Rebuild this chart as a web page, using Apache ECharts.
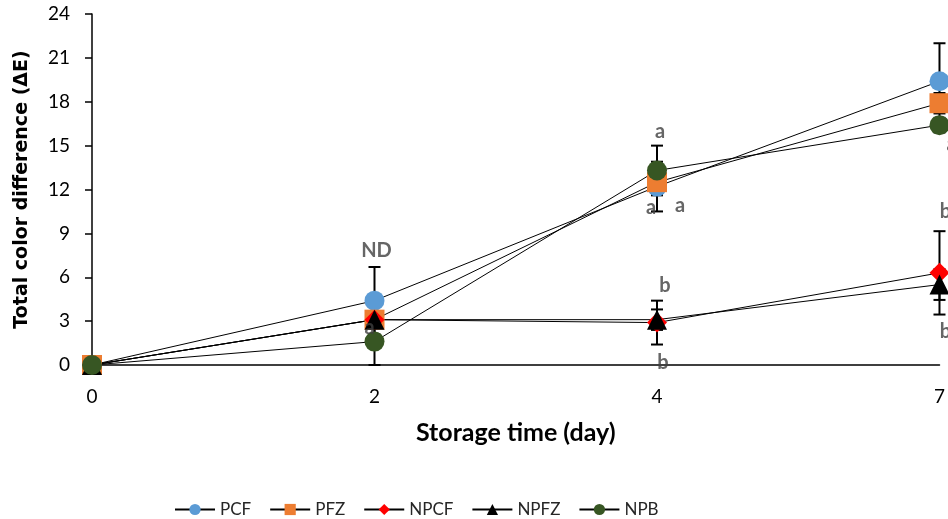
<!DOCTYPE html>
<html lang="en">
<head>
<meta charset="UTF-8">
<title>Total color difference</title>
<script src="https://cdn.jsdelivr.net/npm/echarts@6/dist/echarts.min.js"></script>
<style>
  * { margin: 0; padding: 0; }
  #chart { width: 948px; height: 519px; background: #fff; }
</style>
</head>
<body>
<div id="chart"></div>
<script>
  // storage days (equally spaced categories, as in the original)
  var days = ['0', '2', '4', '7'];

  // mean total color difference per sample
  var PCF = [0, 4.4, 12.2, 19.4];
  var PFZ = [0, 3.1, 12.5, 17.9];
  var NPCF = [0, 3.1, 2.9, 6.3];
  var NPFZ = [0, 3.1, 3.1, 5.5];
  var NPB = [0, 1.6, 13.3, 16.4];

  // standard deviations (error bars)
  var sdPCF = [0, 2.3, 1.7, 2.6];
  var sdPFZ = [0, 0.3, 0.8, 0.7];
  var sdNPCF = [0, 0.3, 1.5, 2.85];
  var sdNPFZ = [0, 0.3, 0.7, 1.05];
  var sdNPB = [0, 1.6, 1.7, 0.5];

  // significance letters
  var letterText = ['ND', 'a', 'a', 'a', 'a', 'b', 'b', 'a', 'b', 'b'];
  var letterDay = [1, 1, 2, 2, 2, 2, 2, 3, 3, 3];
  var letterY = [7.86, 2.53, 15.93, 10.74, 10.87, 5.4, 0.14, 15.04, 10.46, 2.26];
  var letterDx = [2, -5, 3, -6, 23, 8, 6, 12, 6, 6];

  var names = ['PCF', 'PFZ', 'NPCF', 'NPFZ', 'NPB'];
  var means = [PCF, PFZ, NPCF, NPFZ, NPB];
  var sds = [sdPCF, sdPFZ, sdNPCF, sdNPFZ, sdNPB];
  var colors = ['#5B9BD5', '#ED7D31', '#FF0000', '#000000', '#375623'];
  var symbols = ['circle', 'rect', 'diamond', 'triangle', 'circle'];

  var errData = [];
  means.forEach(function (m, s) {
    m.forEach(function (v, i) {
      if (sds[s][i] > 0) errData.push([i, v - sds[s][i], v + sds[s][i]]);
    });
  });

  var letterData = letterText.map(function (t, i) {
    return { value: [letterDay[i], letterY[i]], name: t, label: { offset: [letterDx[i], 0] } };
  });

  var series = [{
    type: 'custom',
    z: 1,
    silent: true,
    data: errData,
    renderItem: function (params, api) {
      var lo = api.coord([api.value(0), api.value(1)]);
      var hi = api.coord([api.value(0), api.value(2)]);
      var w = 6;
      var st = { stroke: '#000', lineWidth: 2 };
      return {
        type: 'group',
        children: [
          { type: 'line', shape: { x1: lo[0], y1: lo[1], x2: hi[0], y2: hi[1] }, style: st },
          { type: 'line', shape: { x1: lo[0] - w, y1: lo[1], x2: lo[0] + w, y2: lo[1] }, style: st },
          { type: 'line', shape: { x1: hi[0] - w, y1: hi[1], x2: hi[0] + w, y2: hi[1] }, style: st }
        ]
      };
    }
  }];

  names.forEach(function (n, s) {
    series.push({
      name: n,
      type: 'line',
      z: 2,
      data: means[s],
      symbol: symbols[s],
      symbolSize: 20,
      showAllSymbol: true,
      lineStyle: { color: '#000', width: 1 },
      itemStyle: { color: colors[s], borderWidth: 0 }
    });
  });

  series.push({
    type: 'scatter',
    z: 5,
    silent: true,
    symbolSize: 0,
    data: letterData,
    label: {
      show: true,
      position: 'inside',
      formatter: '{b}',
      color: '#404040',
      fontFamily: 'Lato',
      fontWeight: 'bold',
      fontSize: 20
    }
  });

  var chart = echarts.init(document.getElementById('chart'));
  chart.setOption({
    animation: false,
    backgroundColor: '#fff',
    grid: { left: 92, right: 6, top: 14, bottom: 154 },
    legend: {
      data: names,
      left: 169,
      top: 496,
      itemWidth: 40,
      itemHeight: 14,
      itemGap: 18,
      textStyle: { fontFamily: 'Lato', fontSize: 17, color: '#262626' }
    },
    xAxis: {
      type: 'category',
      data: days,
      boundaryGap: false,
      name: 'Storage time (day)',
      nameLocation: 'middle',
      nameGap: 55,
      nameTextStyle: { fontFamily: 'Lato', fontWeight: 'bold', fontSize: 25, color: '#000' },
      axisLine: { lineStyle: { color: '#000', width: 1.5 } },
      axisTick: { show: false },
      axisLabel: { margin: 22, fontFamily: 'Lato', fontSize: 19, color: '#000' },
      splitLine: { show: false }
    },
    yAxis: {
      type: 'value',
      min: 0,
      max: 24,
      interval: 3,
      name: 'Total color difference (ΔE)',
      nameLocation: 'middle',
      nameGap: 60,
      nameTextStyle: { fontFamily: 'DejaVu Sans', fontWeight: 'bold', fontSize: 19, color: '#000' },
      axisLine: { show: true, lineStyle: { color: '#000', width: 1.5 } },
      axisTick: { show: true, length: 7, lineStyle: { color: '#000', width: 1.5 } },
      axisLabel: { margin: 22, fontFamily: 'Lato', fontSize: 19, color: '#000' },
      splitLine: { show: false }
    },
    series: series
  });
</script>
</body>
</html>
